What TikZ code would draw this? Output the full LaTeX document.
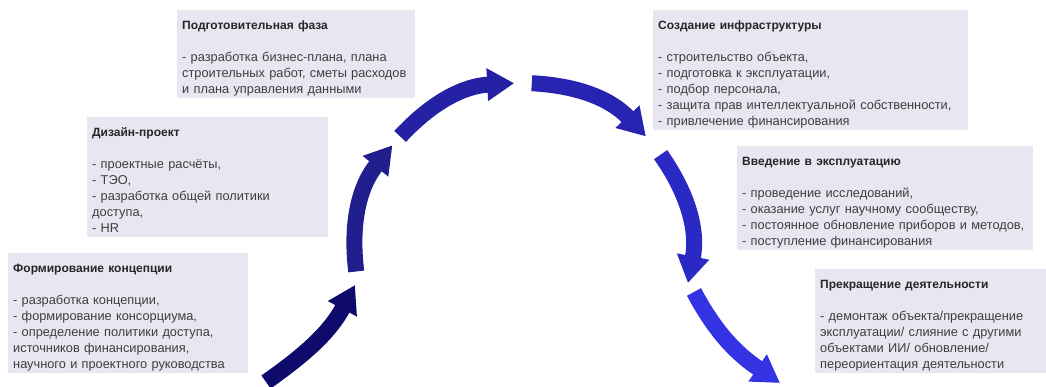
\documentclass[tikz,border=0pt]{standalone}
\usepackage{fontspec}
\setmainfont{Liberation Sans}
\usepackage{xcolor}
\usetikzlibrary{calc, positioning, arrows.meta}

\definecolor{stagefill}{HTML}{E8E7F1}
\definecolor{stagetext}{HTML}{3E3E3E}
\definecolor{phase1}{HTML}{0F0B6C}
\definecolor{phase2}{HTML}{211E8E}
\definecolor{phase3}{HTML}{2421A4}
\definecolor{phase4}{HTML}{2724B2}
\definecolor{phase5}{HTML}{2B29C4}
\definecolor{phase6}{HTML}{3333E3}

\tikzset{
    stage/.style={fill=stagefill, text=stagetext, anchor=north west, align=left, inner xsep=5pt, inner ysep=2pt, font=\fontsize{12.8}{16}\selectfont},
    phase/.style={line width=16pt, -{Triangle[length=27pt, width=31pt]}},
}
\newcommand{\stagetitle}[1]{\rule{0pt}{17pt}{\fontsize{12}{16}\selectfont\textbf{\color{black!85}#1}}\\[16pt]}
\newcommand{\stageend}{\rule[-3pt]{0pt}{3pt}}

\begin{document}
\begin{tikzpicture}[x=1pt, y=1pt]
    \useasboundingbox (0,0) rectangle (1046,386);
    \clip (0,0) rectangle (1046,386);

    % stages
    \node[stage, text width=230pt] (concept) at (8,133) {\stagetitle{Формирование концепции}- разработка концепции,\\- формирование консорциума,\\- определение политики доступа,\\источников финансирования,\\научного и проектного руководства\stageend};
    \node[stage, text width=231pt] (design) at (87,269) {\stagetitle{Дизайн-проект}- проектные расчёты,\\- ТЭО,\\- разработка общей политики\\доступа,\\- HR\stageend};
    \node[stage, text width=228pt] (prep) at (177,376) {\stagetitle{Подготовительная фаза}- разработка бизнес-плана, плана\\строительных работ, сметы расходов\\и плана управления данными\stageend};
    \node[stage, text width=305pt] (infra) at (653,376) {\stagetitle{Создание инфраструктуры}- строительство объекта,\\- подготовка к эксплуатации,\\- подбор персонала,\\- защита прав интеллектуальной собственности,\\- привлечение финансирования\stageend};
    \node[stage, text width=286pt] (operation) at (737,240) {\stagetitle{Введение в эксплуатацию}- проведение исследований,\\- оказание услуг научному сообществу,\\- постоянное обновление приборов и методов,\\- поступление финансирования\stageend};
    \node[stage, text width=225pt] (closure) at (815,117) {\stagetitle{Прекращение деятельности}- демонтаж объекта/прекращение\\эксплуатации/ слияние с другими\\объектами ИИ/ обновление/\\переориентация деятельности\stageend};

    % arrow ends
    \coordinate (C) at (523,135);
    \coordinate (s1) at (266,4);
    \coordinate (t1) at (355,101);
    \foreach \i/\a/\b in {2/187/141, 3/137/93, 4/87/43, 5/35/-11} {
        \coordinate (s\i) at ($(C)+(\a:168)$);
        \coordinate (t\i) at ($(C)+(\b:168)$);
    }
    \coordinate (s6) at (694,94);
    \coordinate (t6) at (780,3);

    % life cycle
    \draw[phase, phase1] (s1) to[out=35, in=242] (t1);
    \foreach \i/\a/\b [evaluate=\a as \o using \a-90, evaluate=\b as \n using \b+90] in {2/187/141, 3/137/93, 4/87/43, 5/35/-11}
        \draw[phase, phase\i] (s\i) to[out=\o, in=\n] (t\i);
    \draw[phase, phase6] (s6) to[out=-62, in=146] (t6);
\end{tikzpicture}
\end{document}
